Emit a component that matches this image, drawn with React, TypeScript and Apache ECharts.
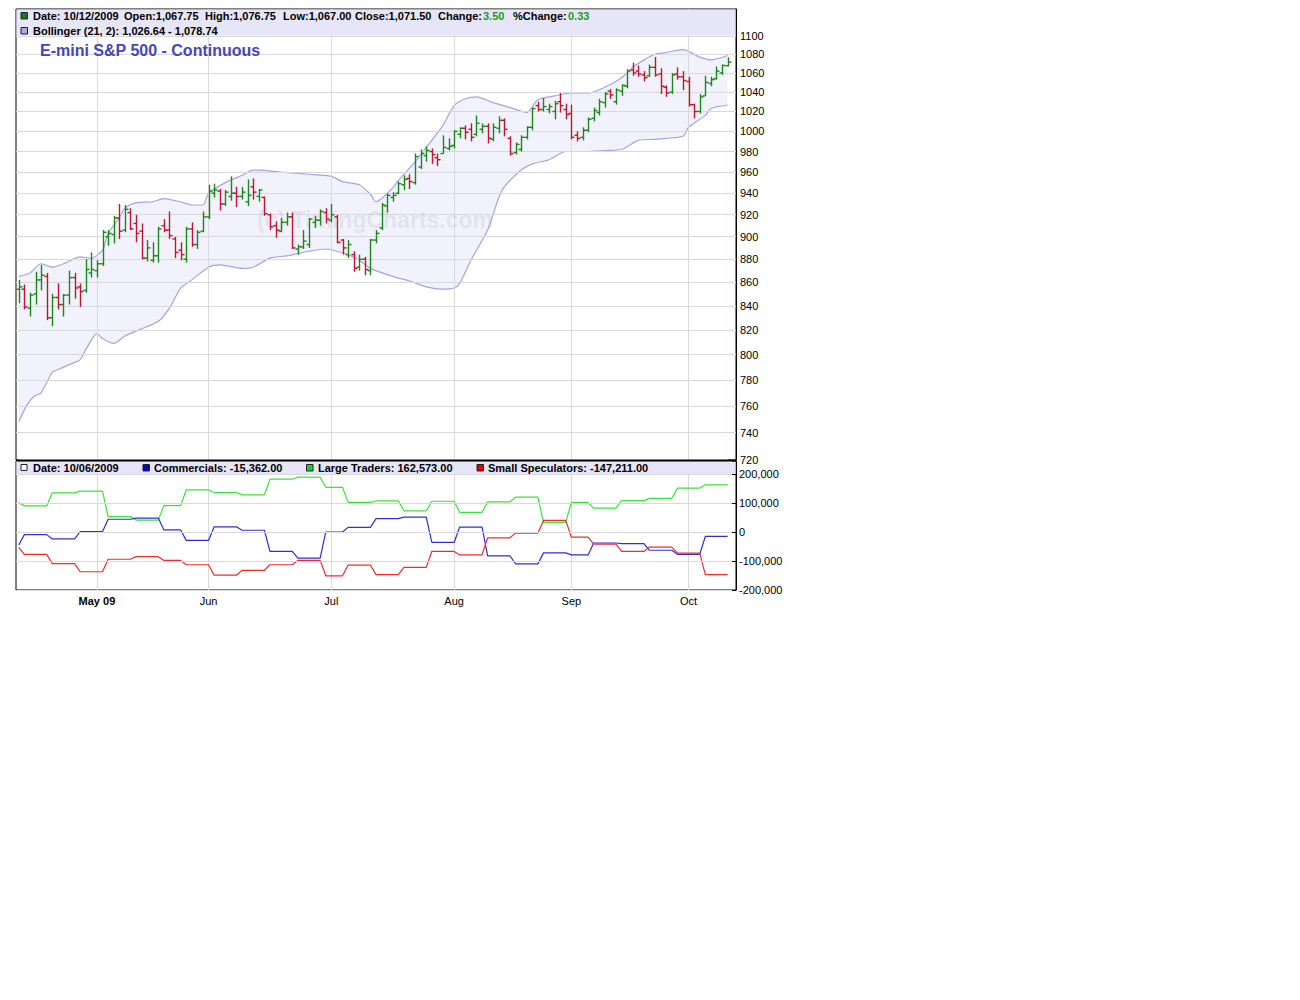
import React, { useEffect, useRef } from 'react';
import * as echarts from 'echarts';

// ---------- calendar (trading days, CME equity futures, 2009) ----------
const START_DATE = '2009-04-13';
const END_DATE = '2009-10-12';
const HOLIDAYS = ['2009-05-25', '2009-07-03', '2009-09-07'];

function tradingDays(start: string, end: string, holidays: string[]): string[] {
  const out: string[] = [];
  const [sy, sm, sd] = start.split('-').map(Number);
  const d = new Date(Date.UTC(sy, sm - 1, sd));
  for (let k = 0; k < 400; k++) {
    const iso = d.toISOString().slice(0, 10);
    if (iso > end) break;
    const wd = d.getUTCDay();
    if (wd !== 0 && wd !== 6 && !holidays.includes(iso)) out.push(iso);
    d.setUTCDate(d.getUTCDate() + 1);
  }
  return out;
}
const dates = tradingDays(START_DATE, END_DATE, HOLIDAYS);

// month labels on the time axis
const monthDates = ['2009-05-01', '2009-06-01', '2009-07-01', '2009-08-03', '2009-09-01', '2009-10-01'];
const monthLabels = ['May 09', 'Jun', 'Jul', 'Aug', 'Sep', 'Oct'];

// price tick labels (log scale)
const priceTicks = [720, 740, 760, 780, 800, 820, 840, 860, 880, 900, 920, 940, 960, 980, 1000, 1020, 1040, 1060, 1080, 1100];

// ---------- daily OHLC (E-mini S&P 500 continuous) ----------
const opens = [
  854, 854, 838, 850, 862, 865, 830, 847, 841, 849, 864, 856, 853, 868, 870, 876, 900, 902, 917, 906,
  922, 912, 905, 881, 879, 883, 910, 906, 898, 888, 880, 907, 893, 905, 918, 940, 942, 930, 937, 940,
  937, 932, 946, 937, 936, 920, 910, 905, 913, 918, 889, 891, 893, 913, 915, 922, 915, 918, 897, 884,
  884, 873, 880, 870, 897, 908, 928, 936, 940, 948, 954, 950, 965, 976, 980, 974, 978, 983, 986, 997,
  1003, 1002, 997, 1002, 1005, 992, 1003, 1011, 993, 979, 982, 994, 1004, 1026, 1022, 1022, 1020, 1030, 1022, 1018,
  996, 994, 1001, 1013, 1019, 1029, 1041, 1030, 1041, 1046, 1063, 1062, 1058, 1057, 1066, 1059, 1045, 1040, 1059, 1056,
  1051, 1027, 1020, 1036, 1049, 1054, 1060, 1067.75,
];
const highs = [
  862, 858, 851, 869, 875, 868, 850, 859, 850, 870, 868, 859, 880, 886, 879, 906, 906, 919, 930, 929,
  926, 920, 912, 897, 895, 909, 916, 923, 900, 895, 909, 913, 906, 923, 948, 949, 944, 943, 956, 946,
  946, 953, 954, 944, 937, 921, 914, 917, 922, 922, 893, 906, 917, 919, 925, 926, 930, 920, 898, 897,
  887, 884, 882, 898, 906, 931, 940, 941, 951, 957, 958, 978, 982, 985, 983, 978, 996, 993, 1001, 1004,
  1006, 1008, 1016, 1008, 1008, 1008, 1015, 1013, 995, 989, 996, 1005, 1024, 1030, 1034, 1028, 1031, 1039, 1028, 1027,
  1000, 1004, 1014, 1024, 1033, 1040, 1043, 1044, 1048, 1064, 1071, 1068, 1062, 1069, 1077, 1065, 1047, 1060, 1066, 1062,
  1056, 1028, 1038, 1057, 1056, 1067, 1069, 1076.75,
];
const lows = [
  842, 837, 831, 841, 853, 828, 823, 837, 831, 841, 846, 839, 851, 864, 864, 874, 892, 894, 898, 904,
  906, 895, 880, 878, 877, 877, 904, 898, 881, 879, 877, 891, 889, 904, 916, 936, 924, 928, 933, 927,
  934, 928, 934, 932, 919, 906, 899, 904, 910, 889, 884, 889, 890, 908, 910, 912, 913, 894, 884, 881,
  869, 870, 866, 866, 894, 906, 922, 932, 939, 943, 944, 948, 963, 970, 968, 966, 978, 981, 983, 993,
  992, 990, 995, 998, 988, 990, 998, 995, 976, 977, 980, 992, 1001, 1020, 1020, 1018, 1012, 1019, 1012, 992,
  990, 991, 999, 1010, 1016, 1024, 1033, 1027, 1036, 1044, 1057, 1056, 1051, 1056, 1056, 1038, 1035, 1038, 1053, 1042,
  1025, 1013, 1018, 1036, 1046, 1053, 1058, 1067,
];
const closes = [
  856, 839, 849, 862, 866, 830, 847, 841, 849, 864, 855, 852, 871, 871, 876, 904, 903, 917, 905, 925,
  907, 903, 881, 890, 883, 907, 906, 901, 886, 884, 907, 893, 904, 918, 942, 943, 930, 941, 940, 937,
  941, 938, 941, 943, 921, 909, 906, 913, 918, 890, 891, 896, 916, 915, 923, 916, 920, 895, 890, 893,
  872, 880, 871, 897, 903, 929, 938, 938, 949, 953, 951, 975, 978, 981, 977, 972, 984, 985, 1000, 1003,
  999, 994, 1008, 1005, 993, 1004, 1011, 1002, 978, 987, 994, 1004, 1023, 1022, 1025, 1025, 1028, 1026, 1017, 994,
  993, 1001, 1012, 1021, 1030, 1038, 1037, 1042, 1047, 1062, 1060, 1059, 1055, 1066, 1058, 1046, 1039, 1058, 1056, 1052,
  1027, 1020, 1035, 1050, 1053, 1062, 1068, 1071.5,
];

// ---------- Bollinger (21, 2) bands: [bar index, value] ----------
const bbUpper = [
  [0, 865], [2, 868], [4, 876], [6, 873], [8, 876], [11, 882], [13, 881], [15, 888], [16, 903], [18, 917],
  [19, 926], [21, 931], [24, 932], [26, 935], [28, 933], [29, 932], [31, 929], [33, 929], [34, 940], [37, 950],
  [40, 957], [42, 962], [43, 962], [47, 960], [52, 958], [56, 956], [58, 951], [61, 948], [63, 939], [64, 932],
  [65, 935], [67, 945], [68, 952], [71, 970], [73, 984], [76, 1006], [78, 1026], [80, 1033], [82, 1035], [85, 1029],
  [88, 1024], [91, 1019], [93, 1032], [96, 1036], [99, 1039], [102, 1039], [105, 1045], [108, 1055], [110, 1066],
  [112, 1074], [114, 1080], [116, 1082], [119, 1085], [122, 1077], [124, 1074], [127, 1078.74],
];
const bbLower = [
  [0, 748], [1, 757], [2, 764], [3, 768], [4, 770], [6, 786], [7, 788], [9, 792], [11, 796], [12, 804],
  [14, 817], [15, 813], [17, 809], [19, 815], [21, 819], [25, 827], [27, 838], [29, 855], [31, 862], [34, 873],
  [36, 875], [40, 872], [42, 873], [45, 881], [48, 883], [52, 887], [55, 889], [57, 887], [59, 884], [61, 879],
  [63, 872], [67, 865], [70, 861], [73, 856], [76, 854], [78, 855], [79, 859], [81, 879], [84, 906], [86, 936],
  [87, 946], [90, 962], [92, 968], [95, 972], [98, 980], [102, 980], [105, 981], [108, 982], [111, 991], [114, 992],
  [116, 993], [119, 995], [120, 1004], [123, 1016], [124, 1023], [127, 1026.64],
];

// ---------- Commitments of Traders (weekly, as of Tuesday) ----------
const cotDates = [
  '2009-04-07', '2009-04-14', '2009-04-21', '2009-04-28', '2009-05-05', '2009-05-12', '2009-05-19', '2009-05-26',
  '2009-06-02', '2009-06-09', '2009-06-16', '2009-06-23', '2009-06-30', '2009-07-07', '2009-07-14', '2009-07-21',
  '2009-07-28', '2009-08-04', '2009-08-11', '2009-08-18', '2009-08-25', '2009-09-01', '2009-09-08', '2009-09-15',
  '2009-09-22', '2009-09-29', '2009-10-06',
];
const commercials = [
  -45000, -9000, -24000, 1000, 44000, 48000, 7000, -29000, 18000, 6000, -67000, -90000, 0, 16000, 46000, 51000,
  -36000, 17000, -82000, -110000, -72000, -79000, -38000, -40000, -63000, -77000, -15362,
];
const largeTraders = [
  101000, 90000, 135000, 141000, 53000, 41000, 91000, 145000, 136000, 128000, 182000, 189000, 154000, 102000, 107000, 73000,
  106000, 68000, 104000, 120000, 33000, 102000, 82000, 108000, 116000, 151000, 162573,
];
const smallSpecs = [
  -53000, -77000, -109000, -137000, -94000, -85000, -98000, -113000, -149000, -132000, -113000, -98000, -151000, -114000, -147000, -122000,
  -67000, -79000, -20000, -4000, 40000, -18000, -42000, -67000, -52000, -73000, -147211,
];

// ---------- styling ----------
const FONT = '"Liberation Sans", Arial, Helvetica, sans-serif';
const GREEN = '#1b861b';
const RED = '#bf1530';
const BAND_LINE = '#a4a4e4';
const BAND_FILL = '#f2f2fc';
const GRID_COLOR = '#d9d9d9';
const STRIP = '#e6e6f8';

function buildOption() {
  const categories = [...dates, ''];
  const cotIdx = cotDates.map((d) => {
    const k = dates.findIndex((x) => x >= d);
    return k < 0 ? dates.length - 1 : k;
  });
  const stepData = (vals: number[]) => {
    const out: number[][] = [];
    vals.forEach((v, k) => {
      const s = cotIdx[k];
      const e = k + 1 < vals.length ? cotIdx[k + 1] - 1 : dates.length - 1;
      out.push([s, v]);
      if (e > s) out.push([e, v]);
    });
    return out;
  };
  const monthIdx = monthDates.map((d) => dates.indexOf(d));
  const ohlc = dates.map((_, i) => [i, opens[i], highs[i], lows[i], closes[i]]);

  const fmtThousands = (v: number) => {
    const s = Math.abs(v).toString().replace(/\B(?=(\d{3})+(?!\d))/g, ',');
    return (v < 0 ? '-' : '') + s;
  };

  const txt = (x: number, y: number, text: string, opts: any = {}) => ({
    type: 'text',
    x,
    y,
    z: 21,
    silent: true,
    style: {
      text,
      fill: opts.fill || '#000',
      font: opts.font || `bold 11px ${FONT}`,
      align: opts.align || 'left',
      verticalAlign: 'middle',
    },
  });
  const box = (x: number, y: number, w: number, h: number, fill: string) => ({
    type: 'rect',
    z: 21,
    silent: true,
    shape: { x, y, width: w, height: h },
    style: { fill, stroke: '#222', lineWidth: 1 },
  });

  return {
    animation: false,
    backgroundColor: '#fff',
    textStyle: { fontFamily: FONT },
    grid: [
      {
        left: 16, top: 9, width: 720, height: 451, show: true, borderColor: '#000', borderWidth: 1,
        backgroundColor: 'transparent', containLabel: false, outerBoundsMode: 'none',
      },
      {
        left: 16, top: 461, width: 720, height: 129, show: true, borderColor: '#000', borderWidth: 1,
        backgroundColor: 'transparent', containLabel: false, outerBoundsMode: 'none',
      },
    ],
    xAxis: [
      {
        type: 'category', gridIndex: 0, data: categories, boundaryGap: true,
        axisLine: { show: false }, axisTick: { show: false }, axisLabel: { show: false }, splitLine: { show: false },
      },
      {
        type: 'category', gridIndex: 1, data: categories, boundaryGap: true,
        axisLine: { show: false }, axisTick: { show: false }, splitLine: { show: false },
        axisLabel: {
          interval: (index: number) => monthIdx.includes(index),
          margin: 5,
          fontSize: 11,
          color: '#000',
          fontFamily: FONT,
          hideOverlap: false,
          formatter: (value: string) => {
            const k = monthDates.indexOf(value);
            if (k < 0) return '';
            return k === 0 ? `{b|${monthLabels[k]}}` : monthLabels[k];
          },
          rich: { b: { fontWeight: 'bold', fontSize: 11, fontFamily: FONT, color: '#000' } },
        },
      },
    ],
    yAxis: [
      {
        type: 'log', logBase: 10, gridIndex: 0, position: 'right', min: 720, max: 1130, z: 15,
        axisLine: { show: true, lineStyle: { color: '#000', width: 1 } },
        axisTick: { show: false }, axisLabel: { show: false }, splitLine: { show: false },
      },
      {
        type: 'value', gridIndex: 1, position: 'right', min: -200000, max: 244800, interval: 100000, z: 15,
        axisLine: { show: true, lineStyle: { color: '#000', width: 1 } },
        axisTick: { show: true, inside: true, length: 4, lineStyle: { color: '#000' } },
        splitLine: { show: true, lineStyle: { color: GRID_COLOR, width: 1 } },
        axisLabel: {
          margin: 3, fontSize: 11, color: '#000', fontFamily: FONT,
          formatter: (v: number) => (Math.abs(v % 100000) < 1 && v <= 200000 ? fmtThousands(v) : ''),
        },
      },
    ],
    series: [
      {
        name: 'Bollinger upper', type: 'line', xAxisIndex: 0, yAxisIndex: 0, z: 1,
        data: bbUpper, symbol: 'none', smooth: 0.25, silent: true,
        lineStyle: { color: BAND_LINE, width: 1.2 },
        areaStyle: { color: BAND_FILL, opacity: 1, origin: 'start' },
        markLine: {
          silent: true, z: 3, symbol: ['none', 'none'], animation: false,
          lineStyle: { color: GRID_COLOR, width: 1, type: 'solid' },
          label: {
            show: true, position: 'end', distance: 4, color: '#000', fontSize: 11, fontFamily: FONT,
            formatter: (p: any) => String(p.value),
          },
          emphasis: { disabled: true },
          data: priceTicks.map((v) => ({ yAxis: v })),
        },
      },
      {
        name: 'Bollinger lower', type: 'line', xAxisIndex: 0, yAxisIndex: 0, z: 2,
        data: bbLower, symbol: 'none', smooth: 0.25, silent: true,
        lineStyle: { color: BAND_LINE, width: 1.2 },
        areaStyle: { color: '#ffffff', opacity: 1, origin: 'start' },
        markLine: {
          silent: true, z: 3, symbol: ['none', 'none'], animation: false,
          lineStyle: { color: GRID_COLOR, width: 1, type: 'solid' },
          label: { show: false },
          emphasis: { disabled: true },
          data: monthDates.map((d) => ({ xAxis: d })),
        },
      },
      {
        name: 'OHLC', type: 'custom', xAxisIndex: 0, yAxisIndex: 0, z: 10,
        data: ohlc,
        encode: { x: 0, y: [1, 2, 3, 4] },
        renderItem: (_params: any, api: any) => {
          const i = api.value(0);
          const o = api.value(1);
          const c = api.value(4);
          const ph = api.coord([i, api.value(2)]);
          const pl = api.coord([i, api.value(3)]);
          const po = api.coord([i, o]);
          const pc = api.coord([i, c]);
          const color = c >= o ? GREEN : RED;
          const x = Math.round(ph[0]) + 0.5;
          const st = { stroke: color, lineWidth: 1.4 };
          return {
            type: 'group',
            children: [
              { type: 'line', shape: { x1: x, y1: ph[1], x2: x, y2: pl[1] }, style: st },
              { type: 'line', shape: { x1: x - 3, y1: po[1], x2: x, y2: po[1] }, style: st },
              { type: 'line', shape: { x1: x, y1: pc[1], x2: x + 3, y2: pc[1] }, style: st },
            ],
          };
        },
      },
      {
        name: 'Large Traders', type: 'line', xAxisIndex: 1, yAxisIndex: 1, z: 4,
        data: stepData(largeTraders), symbol: 'none', silent: true,
        lineStyle: { color: '#3ee03e', width: 1.2 },
        markLine: {
          silent: true, z: 1, symbol: ['none', 'none'], animation: false,
          lineStyle: { color: GRID_COLOR, width: 1, type: 'solid' },
          label: { show: false },
          emphasis: { disabled: true },
          data: monthDates.map((d) => ({ xAxis: d })),
        },
      },
      {
        name: 'Commercials', type: 'line', xAxisIndex: 1, yAxisIndex: 1, z: 4,
        data: stepData(commercials), symbol: 'none', silent: true,
        lineStyle: { color: '#3030d0', width: 1.2 },
      },
      {
        name: 'Small Speculators', type: 'line', xAxisIndex: 1, yAxisIndex: 1, z: 4,
        data: stepData(smallSpecs), symbol: 'none', silent: true,
        lineStyle: { color: '#e83030', width: 1.2 },
      },
    ],
    graphic: [
      {
        type: 'text', x: 375, y: 220, z: 4, silent: true,
        style: {
          text: '(c) TimingCharts.com', font: `bold 23px ${FONT}`,
          fill: 'rgba(120,120,140,0.13)', align: 'center', verticalAlign: 'middle',
        },
      },
      // top legend strip
      { type: 'rect', z: 20, silent: true, shape: { x: 16.5, y: 9.5, width: 719, height: 26 }, style: { fill: STRIP } },
      box(21, 12.5, 6.5, 6.5, '#1a7a1a'),
      txt(33, 16, 'Date: 10/12/2009'),
      txt(124, 16, 'Open:1,067.75'),
      txt(205, 16, 'High:1,076.75'),
      txt(283, 16, 'Low:1,067.00'),
      txt(355, 16, 'Close:1,071.50'),
      txt(438, 16, 'Change:'),
      txt(483, 16, '3.50', { fill: '#1c9a1c' }),
      txt(513, 16, '%Change:'),
      txt(568, 16, '0.33', { fill: '#1c9a1c' }),
      box(21, 27.5, 6.5, 6.5, '#a8a8ee'),
      txt(33, 31, 'Bollinger (21, 2): 1,026.64 - 1,078.74'),
      txt(40, 50.5, 'E-mini S&P 500 - Continuous', { font: `bold 16px ${FONT}`, fill: '#4646b4' }),
      // separator between panels
      { type: 'line', z: 22, silent: true, shape: { x1: 16, y1: 460.5, x2: 736, y2: 460.5 }, style: { stroke: '#000', lineWidth: 2 } },
      // bottom legend strip
      { type: 'rect', z: 20, silent: true, shape: { x: 16.5, y: 461.5, width: 719, height: 12.5 }, style: { fill: STRIP } },
      box(21, 464.5, 6, 6, '#ffffff'),
      txt(33, 468, 'Date: 10/06/2009'),
      box(143, 464.5, 6.5, 6.5, '#0000cc'),
      txt(154, 468, 'Commercials: -15,362.00'),
      box(306.5, 464.5, 6.5, 6.5, '#1ed01e'),
      txt(318, 468, 'Large Traders: 162,573.00'),
      box(477, 464.5, 6.5, 6.5, '#d40000'),
      txt(488, 468, 'Small Speculators: -147,211.00'),
    ],
  };
}

export default function App() {
  const ref = useRef<HTMLDivElement>(null);
  useEffect(() => {
    if (!ref.current) return;
    const chart = echarts.init(ref.current, null, { renderer: 'svg' });
    chart.setOption(buildOption() as any);
    return () => chart.dispose();
  }, []);
  return <div ref={ref} style={{ position: 'absolute', left: 0, top: 0, width: 800, height: 612 }} />;
}
